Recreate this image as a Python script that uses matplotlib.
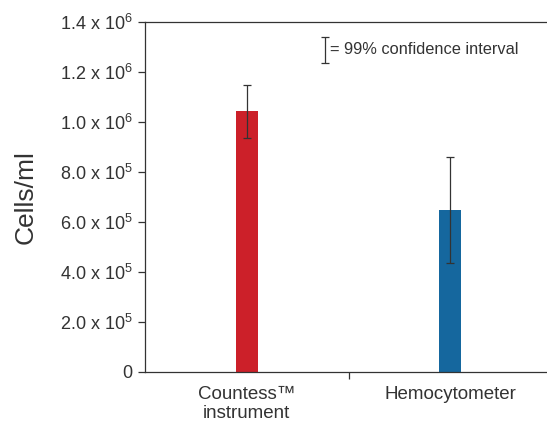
import numpy as np
import matplotlib
matplotlib.use('Agg')
import matplotlib.pyplot as plt

# values
methods = ['Countess\u2122\ninstrument', 'Hemocytometer']
cells = [1.044e6, 0.648e6]
ci99 = [0.106e6, 0.212e6]
bar_colors = ['#cc2029', '#15679e']
yticks = [0, 2e5, 4e5, 6e5, 8e5, 1.0e6, 1.2e6, 1.4e6]
ytick_labels = ['0', '2.0 x 10$^5$', '4.0 x 10$^5$', '6.0 x 10$^5$', '8.0 x 10$^5$',
                '1.0 x 10$^6$', '1.2 x 10$^6$', '1.4 x 10$^6$']

plt.rcParams['font.family'] = ['Liberation Sans', 'DejaVu Sans']
plt.rcParams['mathtext.fontset'] = 'custom'
plt.rcParams['mathtext.rm'] = 'Liberation Sans'
plt.rcParams['mathtext.it'] = 'Liberation Sans'
plt.rcParams['mathtext.bf'] = 'Liberation Sans'
txt = '#333333'
axc = '#333333'

fig = plt.figure(figsize=(5.47, 4.22), dpi=100)
W, H = 547, 422
ax = fig.add_axes([145 / W, (H - 372) / H, (552 - 145) / W, (372 - 22) / H])

x = np.arange(len(methods))
ax.bar(x, cells, width=0.11, color=bar_colors, zorder=2)
ax.errorbar(x, cells, yerr=ci99, fmt='none', ecolor=axc, elinewidth=0.9,
            capsize=2.6, capthick=0.9, zorder=3)

ax.set_xlim(-0.5, 1.5)
ax.set_ylim(0, 1.4e6)

ax.set_yticks(yticks)
ax.set_yticklabels(ytick_labels, fontsize=13, color=txt)
ax.tick_params(axis='y', direction='out', length=5, width=0.9, color=axc, pad=4)

ax.set_xticks(x)
ax.set_xticklabels(methods, fontsize=13.5, color=txt, linespacing=1.15)
ax.tick_params(axis='x', which='major', length=0, pad=10)
ax.set_xticks([0.5], minor=True)
ax.tick_params(axis='x', which='minor', direction='out', length=5, width=0.9, color=axc)

ax.set_ylabel('Cells/ml', fontsize=19, color=txt, labelpad=16)

for s in ['top', 'left', 'bottom']:
    ax.spines[s].set_color(axc)
    ax.spines[s].set_linewidth(0.9)
ax.spines['right'].set_visible(False)

# key for the error bars
ax.errorbar([0.385], [1.288e6], yerr=[0.052e6], fmt='none', ecolor=axc,
            elinewidth=0.9, capsize=2.6, capthick=0.9)
ax.text(0.408, 1.29e6, '= 99% confidence interval', fontsize=11.8, color=txt,
        va='center', ha='left')

fig.savefig('out.png', dpi=100)
